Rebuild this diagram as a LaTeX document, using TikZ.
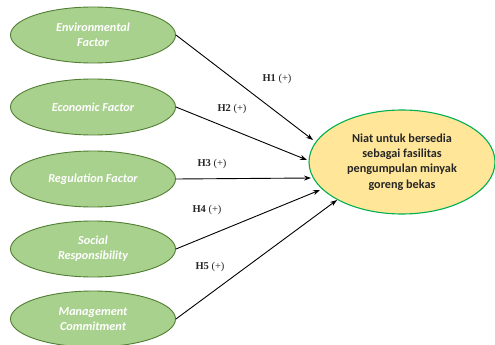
\documentclass[tikz,border=0pt]{standalone}
\usepackage{fontspec}
\setmainfont{Carlito}
\newfontfamily\labfont{Liberation Serif}
\usetikzlibrary{shapes.geometric,arrows.meta}
\definecolor{gfill}{HTML}{A9D18E}
\definecolor{gdraw}{HTML}{507E32}
\definecolor{yfill}{HTML}{FFE699}
\definecolor{ydraw}{HTML}{00B050}
\definecolor{txt}{HTML}{262626}
\begin{document}
\begin{tikzpicture}[x=1pt,y=-1pt,
  factor/.style={ellipse,draw=gdraw,line width=0.9pt,fill=gfill,minimum width=165pt,minimum height=56pt,inner sep=0pt,
    font=\fontsize{12.2}{15}\selectfont\bfseries\itshape,text=white,align=center},
  target/.style={ellipse,draw=ydraw,line width=1.1pt,fill=yfill,minimum width=186pt,minimum height=104pt,inner sep=0pt,
    font=\fontsize{12.2}{15.3}\selectfont\bfseries,text=txt,align=center},
  hlab/.style={font=\labfont\fontsize{10.5}{12}\selectfont,text=txt},
  arr/.style={-{Stealth[length=7pt,width=5pt]},line width=0.9pt,black}]
\useasboundingbox (0,0) rectangle (495,345);
\node[factor] (f1) at (93,35) {Environmental\\Factor};
\node[factor] (f2) at (93,107) {Economic Factor};
\node[factor] (f3) at (93,179) {Regulation Factor};
\node[factor] (f4) at (93,249) {Social\\Responsibility};
\node[factor] (f5) at (93,319) {Management\\Commitment};
\node[target] (t) at (402,162) {Niat untuk bersedia\\sebagai fasilitas\\pengumpulan minyak\\goreng bekas};
\coordinate (e1) at (313,140);
\coordinate (e2) at (307,160);
\coordinate (e3) at (311,178);
\coordinate (e4) at (320,190);
\coordinate (e5) at (337,200);
\draw[arr] (f1.east) -- (e1);
\draw[arr] (f2.east) -- (e2);
\draw[arr] (f3.east) -- (e3);
\draw[arr] (f4.east) -- (e4);
\draw[arr] (f5.east) -- (e5);
\node[hlab] (h1) at (277,79) {\textbf{H1} (+)};
\node[hlab] (h2) at (232,109) {\textbf{H2} (+)};
\node[hlab] (h3) at (212,164) {\textbf{H3} (+)};
\node[hlab] (h4) at (207,210) {\textbf{H4} (+)};
\node[hlab] (h5) at (210,267) {\textbf{H5} (+)};
\end{tikzpicture}
\end{document}
